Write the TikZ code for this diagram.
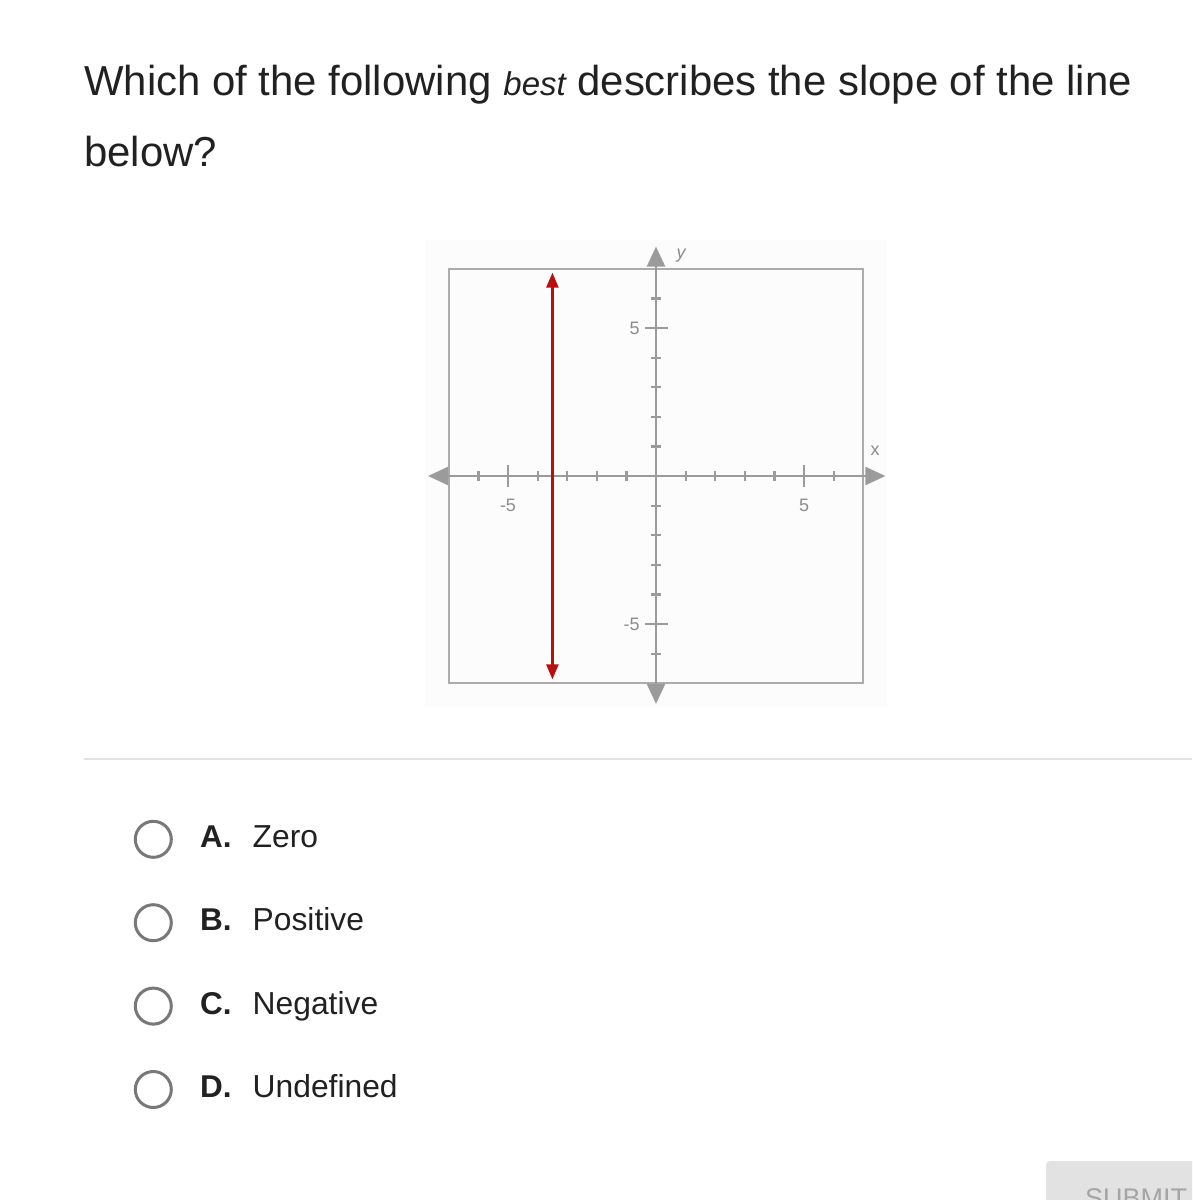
\documentclass[tikz,border=0pt]{standalone}
\usepackage{fontspec}
\setmainfont{Liberation Sans}
\usetikzlibrary{arrows.meta}
\definecolor{axisgray}{RGB}{155,155,155}
\definecolor{boxgray}{RGB}{172,172,172}
\definecolor{linered}{RGB}{185,15,15}
\definecolor{optgray}{RGB}{120,120,120}
\definecolor{rulegray}{RGB}{226,226,226}
\definecolor{btngray}{RGB}{226,226,226}
\definecolor{btntext}{RGB}{165,165,165}
\definecolor{textdark}{RGB}{33,33,33}
\definecolor{labelgray}{RGB}{140,140,140}

\begin{document}
\begin{tikzpicture}[x=1pt,y=-1pt,
    axis/.style={draw=axisgray,fill=axisgray,line width=2.4pt,
      {Triangle[length=20pt,width=18pt]}-{Triangle[length=20pt,width=18pt]}},
    vline/.style={draw=linered,line width=2.4pt,
      {Triangle[length=15pt,width=12pt]}-{Triangle[length=15pt,width=12pt]}},
    tick/.style={axisgray,line width=2.2pt},
    ticklabel/.style={labelgray,inner sep=0pt,font=\fontsize{18}{20}\selectfont},
    question/.style={anchor=base west,inner sep=0pt,textdark,font=\fontsize{41.9}{50}\selectfont},
    radio/.style={circle,draw=optgray,line width=3pt,minimum size=36pt,inner sep=0pt},
    optletter/.style={anchor=base west,inner sep=0pt,textdark,font=\fontsize{31.5}{36}\selectfont\bfseries},
    opttext/.style={anchor=base west,inner sep=0pt,textdark,font=\fontsize{31.8}{36}\selectfont}]
  \useasboundingbox (0,0) rectangle (1192,1200);
  \clip (0,0) rectangle (1192,1200);
  \fill[white] (0,0) rectangle (1192,1200);

  % question
  \node[question] (question1) at (84,95)
    {Which of the following {\fontsize{33}{50}\selectfont\itshape best} describes the slope of the line};
  \node[question] (question2) at (84,166) {below?};

  % graph
  \begin{scope}[shift={(656,476)},x=29.6pt,y=29.6pt]
    \fill[black!1] (-7.8,-7.8) rectangle (7.8,7.97);
    \draw[boxgray,line width=1.8pt] (-7,-7) rectangle (7,7);
    \draw[axis] (-7.7,0) -- (7.75,0);
    \draw[axis] (0,-7.7) -- (0,7.75);
    \foreach \x in {-6,-4,-3,-2,-1,1,2,3,4,6}
    {
        \draw[tick] (\x,-0.17) -- (\x,0.17);
        \draw[tick] (-0.17,\x) -- (0.17,\x);
    }
    \foreach \x/\n in {-5/-5,5/5}
    {
        \draw[tick] (\x,-0.37) -- (\x,0.37);
        \draw[tick] (-0.37,\x) -- (0.4,\x);
        \node[ticklabel] (xlab\x) at (\x,-1.0) {\n};
        \node[ticklabel,anchor=east] (ylab\x) at (-0.55,\x) {\n};
    }
    \node[labelgray,inner sep=0pt,font=\fontsize{18}{20}\selectfont\itshape] (ylabel) at (0.85,7.45) {y};
    \node[labelgray,inner sep=0pt,font=\fontsize{18}{20}\selectfont] (xlabel) at (7.4,0.84) {x};
    \coordinate (top) at (-3.5,6.87);
    \coordinate (bottom) at (-3.5,-6.87);
    \draw[vline] (bottom) -- (top);
  \end{scope}

  \draw[rulegray,line width=1.5pt] (84,759) -- (1192,759);

  % choices
  \foreach \l/\t [count=\i from 0] in {A/Zero,B/Positive,C/Negative,D/Undefined}
  {
      \node[radio] (radio\l) at (153.3,{839.3+83.4*\i}) {};
      \node[optletter] (letter\l) at (200,{847.3+83.4*\i}) {\l.};
      \node[opttext] (choice\l) at (252.5,{847.3+83.4*\i}) {\t};
  }

  % submit
  \fill[btngray,rounded corners=4pt] (1046,1161) rectangle (1210,1230);
  \node[anchor=base west,inner sep=0pt,btntext,font=\fontsize{27}{30}\selectfont] (submit) at (1085,1207) {SUBMIT};
\end{tikzpicture}
\end{document}
